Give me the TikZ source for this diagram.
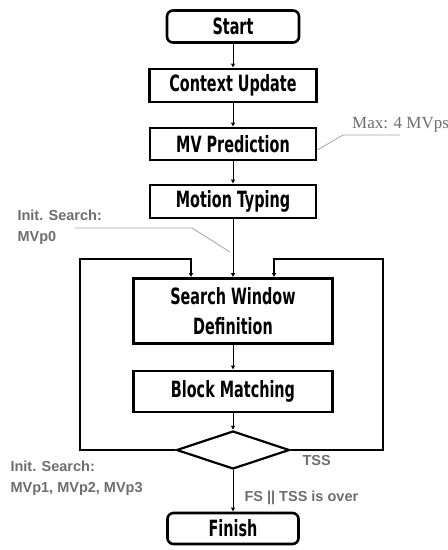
\documentclass[tikz,border=0pt]{standalone}
\usepackage{graphicx}
\usepackage{fontspec}
\setmainfont{Liberation Sans}
\newfontfamily\boxfont{DejaVu Sans Condensed}
\newfontfamily\serifnote{Liberation Serif}
\usepackage{tikz}
\usetikzlibrary{shapes.geometric}
\usetikzlibrary{arrows.meta}
\definecolor{notegray}{RGB}{110,110,110}
\definecolor{leadgray}{RGB}{165,165,165}
\newcommand{\tall}[1]{\scalebox{1}[1.4]{#1}}
\tikzset{stepbox/.style={draw, line width=2.6pt, minimum height=32pt, inner sep=0pt,
           font=\boxfont\bfseries\fontsize{16}{30}\selectfont},
         termbox/.style={stepbox, rounded corners=6pt},
         decbox/.style={draw, diamond, line width=2.2pt, aspect=2.9,
           minimum width=113pt, minimum height=38pt, inner sep=0pt},
         flow/.style={line width=1pt, -{Latex[length=4pt,width=4.5pt]}},
         loopline/.style={flow, line width=1.5pt},
         note/.style={text=notegray, align=left,
           font=\bfseries\fontsize{14.5}{21.5}\selectfont},
         lead/.style={draw=leadgray, line width=0.8pt}}

\begin{document}
\begin{tikzpicture}[x=1pt,y=-1pt]
\useasboundingbox (0,0) rectangle (448,550);
% boxes
\node[termbox, minimum width=132pt] (start) at (233,26.5) {\tall{Start}};
\node[stepbox, minimum width=167pt, minimum height=33pt] (ctx) at (233,85.5) {\tall{Context Update}};
\node[stepbox, minimum width=166pt] (mvp) at (233,144) {\tall{MV Prediction}};
\node[stepbox, minimum width=166pt, minimum height=33pt] (mt) at (233,201.5) {\tall{Motion Typing}};
\node[stepbox, minimum width=199pt, minimum height=65pt, align=center] (swd) at (233,311)
  {\tall{Search Window}\\\tall{Definition}};
\node[stepbox, minimum width=199pt, minimum height=41pt] (bm) at (233,391.5) {\tall{Block Matching}};
\node[decbox] (dec) at (233,450) {};
\node[termbox, minimum width=131pt, minimum height=31pt] (fin) at (233,528.5) {\tall{Finish}};
% main flow
\draw[flow] (start) -- (ctx);
\draw[flow] (ctx) -- (mvp);
\draw[flow] (mvp) -- (mt);
\draw[flow] (mt) -- (swd);
\draw[flow] (swd) -- (bm);
\draw[flow] (bm) -- (dec);
\draw[flow] (dec) -- (fin);
% loops back
\coordinate (ltop) at (80,259);
\coordinate (rtop) at (383,259);
\draw[loopline] (dec.west) -| (ltop) -| ([xshift=-42pt]swd.north);
\draw[loopline] (dec.east) -| (rtop) -| ([xshift=41pt]swd.north);
% notes
\node[note, anchor=north west] (tss) at (299,452) {TSS};
\node[note, anchor=west] (over) at (241,498) {FS || TSS is over};
\node[note, anchor=north west] (init0) at (14,206) {Init. Search:\\MVp0};
\node[note, anchor=north west] (init1) at (7,457) {Init. Search:\\MVp1, MVp2, MVp3};
\node[text=notegray, font=\serifnote\fontsize{17}{20}\selectfont, anchor=west, inner sep=0pt] (maxmv) at (352,125) {Max: 4 MVps};
% leader lines
\coordinate (maxknee) at (343,135);
\coordinate (maxend) at (400,135);
\draw[lead] ([yshift=-6pt]mvp.east) -- (maxknee) -- (maxend);
\coordinate (initend) at (75,228);
\coordinate (initknee) at (192,228);
\coordinate (initpt) at (230,252);
\draw[lead] (initend) -- (initknee) -- (initpt);
\end{tikzpicture}
\end{document}
